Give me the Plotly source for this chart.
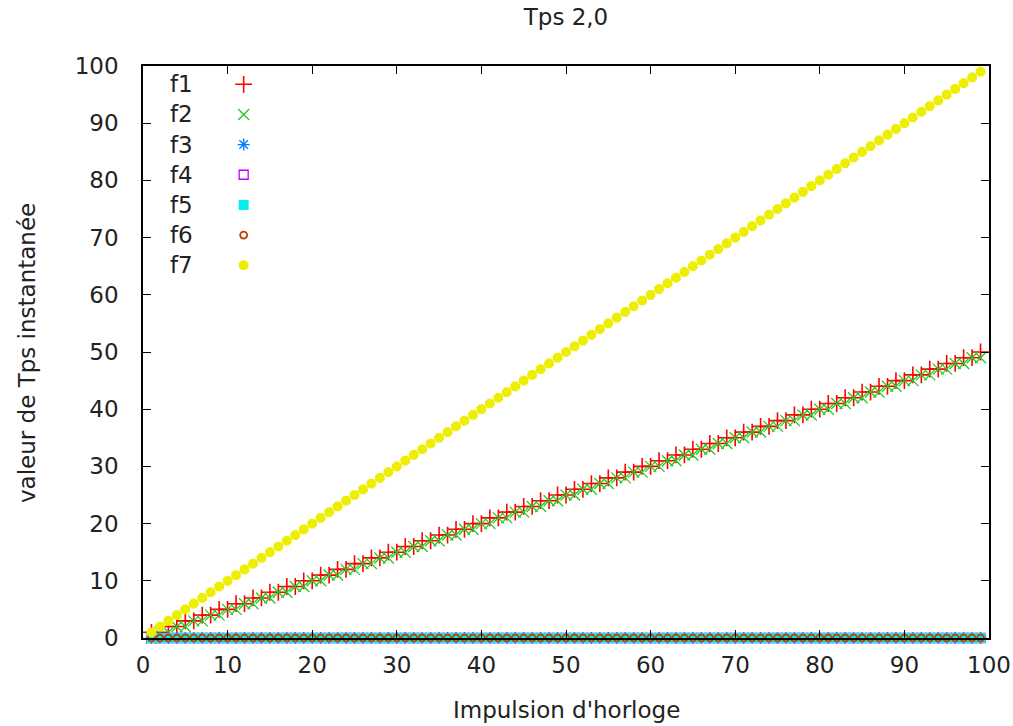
import plotly.graph_objects as go

# ---- data ----
x = [1, 2, 3, 4, 5, 6, 7, 8, 9, 10, 11, 12, 13, 14, 15, 16, 17, 18, 19, 20,
     21, 22, 23, 24, 25, 26, 27, 28, 29, 30, 31, 32, 33, 34, 35, 36, 37, 38, 39, 40,
     41, 42, 43, 44, 45, 46, 47, 48, 49, 50, 51, 52, 53, 54, 55, 56, 57, 58, 59, 60,
     61, 62, 63, 64, 65, 66, 67, 68, 69, 70, 71, 72, 73, 74, 75, 76, 77, 78, 79, 80,
     81, 82, 83, 84, 85, 86, 87, 88, 89, 90, 91, 92, 93, 94, 95, 96, 97, 98, 99]

f1 = [1, 1, 2, 2, 3, 3, 4, 4, 5, 5, 6, 6, 7, 7, 8, 8, 9, 9, 10, 10,
      11, 11, 12, 12, 13, 13, 14, 14, 15, 15, 16, 16, 17, 17, 18, 18, 19, 19, 20, 20,
      21, 21, 22, 22, 23, 23, 24, 24, 25, 25, 26, 26, 27, 27, 28, 28, 29, 29, 30, 30,
      31, 31, 32, 32, 33, 33, 34, 34, 35, 35, 36, 36, 37, 37, 38, 38, 39, 39, 40, 40,
      41, 41, 42, 42, 43, 43, 44, 44, 45, 45, 46, 46, 47, 47, 48, 48, 49, 49, 50]

f2 = [0, 1, 1, 2, 2, 3, 3, 4, 4, 5, 5, 6, 6, 7, 7, 8, 8, 9, 9, 10,
      10, 11, 11, 12, 12, 13, 13, 14, 14, 15, 15, 16, 16, 17, 17, 18, 18, 19, 19, 20,
      20, 21, 21, 22, 22, 23, 23, 24, 24, 25, 25, 26, 26, 27, 27, 28, 28, 29, 29, 30,
      30, 31, 31, 32, 32, 33, 33, 34, 34, 35, 35, 36, 36, 37, 37, 38, 38, 39, 39, 40,
      40, 41, 41, 42, 42, 43, 43, 44, 44, 45, 45, 46, 46, 47, 47, 48, 48, 49, 49]

zeros = [0, 0, 0, 0, 0, 0, 0, 0, 0, 0, 0,
         0, 0, 0, 0, 0, 0, 0, 0, 0, 0, 0,
         0, 0, 0, 0, 0, 0, 0, 0, 0, 0, 0,
         0, 0, 0, 0, 0, 0, 0, 0, 0, 0, 0,
         0, 0, 0, 0, 0, 0, 0, 0, 0, 0, 0,
         0, 0, 0, 0, 0, 0, 0, 0, 0, 0, 0,
         0, 0, 0, 0, 0, 0, 0, 0, 0, 0, 0,
         0, 0, 0, 0, 0, 0, 0, 0, 0, 0, 0,
         0, 0, 0, 0, 0, 0, 0, 0, 0, 0, 0]
f3 = list(zeros)
f4 = list(zeros)
f5 = list(zeros)
f6 = list(zeros)

f7 = [1, 2, 3, 4, 5, 6, 7, 8, 9, 10, 11, 12, 13, 14, 15, 16, 17, 18, 19, 20,
      21, 22, 23, 24, 25, 26, 27, 28, 29, 30, 31, 32, 33, 34, 35, 36, 37, 38, 39, 40,
      41, 42, 43, 44, 45, 46, 47, 48, 49, 50, 51, 52, 53, 54, 55, 56, 57, 58, 59, 60,
      61, 62, 63, 64, 65, 66, 67, 68, 69, 70, 71, 72, 73, 74, 75, 76, 77, 78, 79, 80,
      81, 82, 83, 84, 85, 86, 87, 88, 89, 90, 91, 92, 93, 94, 95, 96, 97, 98, 99]

names = ["f1", "f2", "f3", "f4", "f5", "f6", "f7"]
series = [f1, f2, f3, f4, f5, f6, f7]

x_ticks = [0, 10, 20, 30, 40, 50, 60, 70, 80, 90, 100]
y_ticks = [0, 10, 20, 30, 40, 50, 60, 70, 80, 90, 100]

# ---- styles ----
styles = [
    dict(symbol="cross-thin", size=12, color="#ff0000", line=dict(color="#ff0000", width=1.6)),
    dict(symbol="x-thin", size=11, color="#00c000", line=dict(color="#22cc22", width=1.3)),
    dict(symbol="asterisk-open", size=10, color="#0080ff", line=dict(color="#0080ff", width=1.4)),
    dict(symbol="square-open", size=9, color="#c000ff", line=dict(color="#c000ff", width=1.3)),
    dict(symbol="square", size=10, color="#00eeee", line=dict(width=0)),
    dict(symbol="circle-open", size=7, color="#c04000", line=dict(color="#c04000", width=1.8)),
    dict(symbol="octagon", size=10.5, color="#eeee00", line=dict(width=0)),
]

FONT = "DejaVu Sans"
FS = 23
TXT = "#222222"

W, H = 1013, 726
L, R, T, B = 143, 24, 66, 88

fig = go.Figure()
for name, ys, st in zip(names, series, styles):
    fig.add_trace(go.Scatter(x=x, y=ys, mode="markers", name=name, marker=st,
                             cliponaxis=False, showlegend=False))

# custom gnuplot-style key (text left, symbol right)
key_x_text = 0.062
key_x_sym = 0.119
key_y0 = 0.968
key_step = 0.0527
for i, (name, st) in enumerate(zip(names, styles)):
    yk = key_y0 - i * key_step
    fig.add_trace(go.Scatter(x=[key_x_sym], y=[yk], mode="markers", marker=st,
                             xaxis="x2", yaxis="y2", showlegend=False,
                             hoverinfo="skip", cliponaxis=False))
    fig.add_annotation(x=key_x_text, y=yk, xref="paper", yref="paper", text=name,
                       showarrow=False, xanchor="right", yanchor="middle",
                       font=dict(family=FONT, size=FS, color=TXT))

# axis titles placed as in the reference
pw, ph = W - L - R, H - T - B
fig.add_annotation(x=0.5, y=-(710 - (H - B)) / ph, xref="paper", yref="paper",
                   text="Impulsion d'horloge", showarrow=False,
                   xanchor="center", yanchor="middle",
                   font=dict(family=FONT, size=FS, color=TXT))
fig.add_annotation(x=-(L - 27) / pw, y=(H - B - 353) / ph, xref="paper", yref="paper",
                   text="valeur de Tps instantanée", showarrow=False, textangle=-90,
                   xanchor="center", yanchor="middle",
                   font=dict(family=FONT, size=FS, color=TXT))

axis_common = dict(showgrid=False, zeroline=False, showline=True, linecolor="#000",
                   linewidth=1.5, mirror="ticks", ticks="inside", ticklen=8,
                   tickcolor="#000", tickwidth=1, automargin=False,
                   tickfont=dict(family=FONT, size=FS, color=TXT))

fig.update_layout(
    width=W, height=H,
    margin=dict(l=L, r=R, t=T, b=B, autoexpand=False),
    paper_bgcolor="white", plot_bgcolor="white",
    title=dict(text="Tps 2,0", x=0.5, xref="paper", xanchor="center",
               y=1 - 17 / H, yref="container", yanchor="middle",
               font=dict(family=FONT, size=FS, color=TXT)),
    xaxis=dict(range=[0, 100], tickvals=x_ticks, ticktext=[str(v) for v in x_ticks],
               ticklabelstandoff=6, **axis_common),
    yaxis=dict(range=[0, 100], tickvals=y_ticks, ticktext=[str(v) for v in y_ticks],
               ticklabelstandoff=18, **axis_common),
    xaxis2=dict(range=[0, 1], overlaying="x", visible=False, fixedrange=True, automargin=False),
    yaxis2=dict(range=[0, 1], overlaying="y", visible=False, fixedrange=True, automargin=False),
    showlegend=False,
)

fig.write_html("out.html", config={"displayModeBar": False},
               post_script="document.body.style.margin='0';document.body.style.padding='0';")
